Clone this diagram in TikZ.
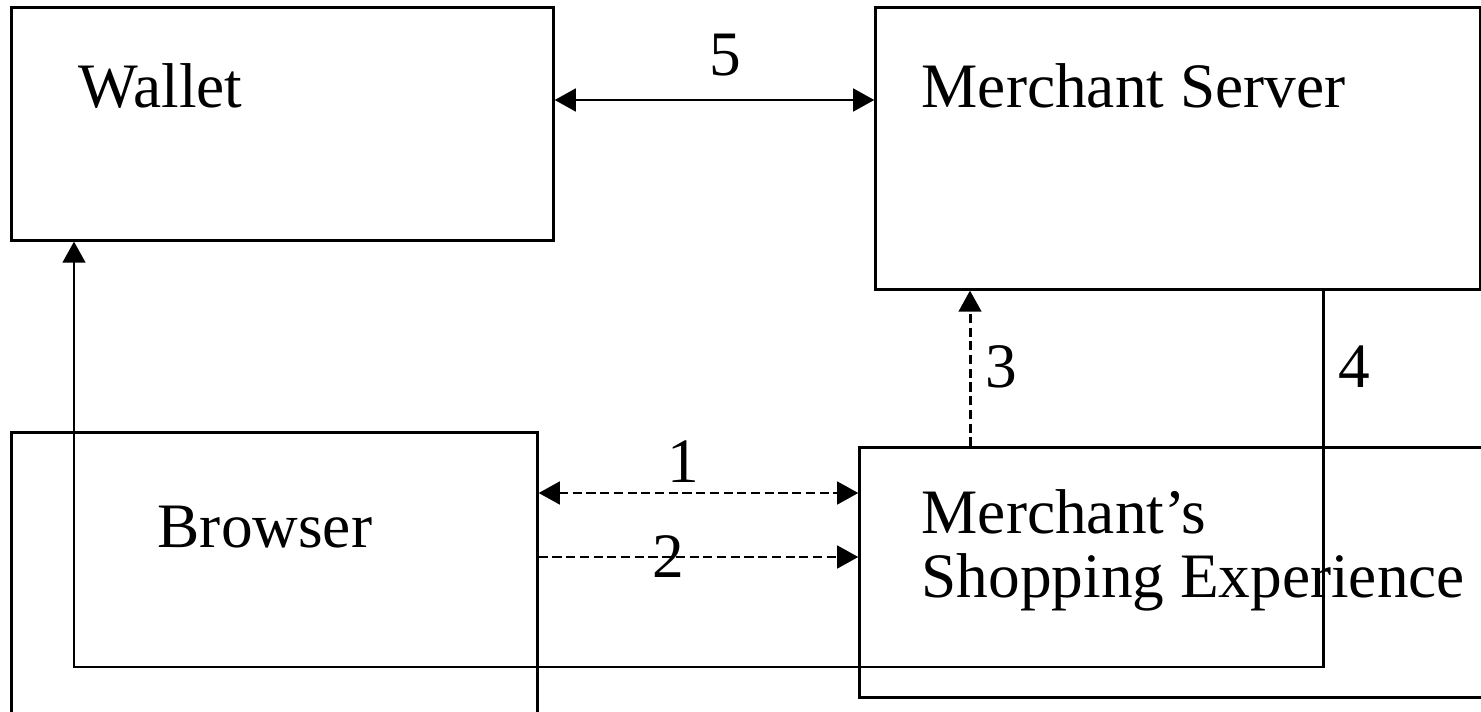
\documentclass[tikz,border=0pt]{standalone}
\usepackage{fontspec}
\setmainfont{Liberation Serif}
\usetikzlibrary{arrows.meta,positioning}

\begin{document}
\begin{tikzpicture}[
    x=0.01cm, y=-0.01cm,
    box/.style={rectangle, draw, line width=0.85pt, inner sep=0pt},
    txt/.style={anchor=base west, inner sep=0pt, font=\fontsize{18}{21}\selectfont},
    num/.style={anchor=base, inner sep=0pt, font=\fontsize{18}{21}\selectfont},
    link/.style={line width=0.85pt, -{Triangle[length=6pt,width=6.4pt]}},
    dlink/.style={link, {Triangle[length=6pt,width=6.4pt]}-{Triangle[length=6pt,width=6.4pt]}},
    dashline/.style={dash pattern=on 2.6pt off 1.3pt}
]
\useasboundingbox (0,0) rectangle (1481,712);
\clip (0,0) rectangle (1481,712);

% Boxes
\node[box, minimum width=5.41cm, minimum height=2.32cm] (wallet) at (282.5,124) {};
\node[box, minimum width=6.04cm, minimum height=2.81cm] (server) at (1178,148.5) {};
\node[box, minimum width=5.25cm, minimum height=3.1cm] (browser) at (274.5,588) {};
\node[box, minimum width=6.6cm, minimum height=2.49cm] (shop) at (1190,572.5) {};

% Box texts
\node[txt] (walletname) at (78,107) {Wallet};
\node[txt] (servername) at (921,107) {Merchant Server};
\node[txt] (browsername) at (157,547) {Browser};
\node[txt] (shopname1) at (921,533) {Merchant’s};
\node[txt] (shopname2) at (921,597) {Shopping Experience};

% Arrows
\draw[dlink] (wallet.east |- 0,100) -- (server.west |- 0,100);
\draw[dlink, dashline] (browser.east |- 0,493) -- (shop.west |- 0,493);
\draw[link, dashline] (browser.east |- 0,557) -- (shop.west |- 0,557);
\draw[link, dashline] (970,0 |- shop.north) -- (970,0 |- server.south);
\draw[link] (1323,0 |- server.south) |- (74,667) -- (74,0 |- wallet.south);

% Numbers
\node[num] (n5) at (725,75) {5};
\node[num] (n1) at (683,482) {1};
\node[num] (n2) at (668,577) {2};
\node[num] (n3) at (1001,387) {3};
\node[num] (n4) at (1354,387) {4};

\end{tikzpicture}
\end{document}
